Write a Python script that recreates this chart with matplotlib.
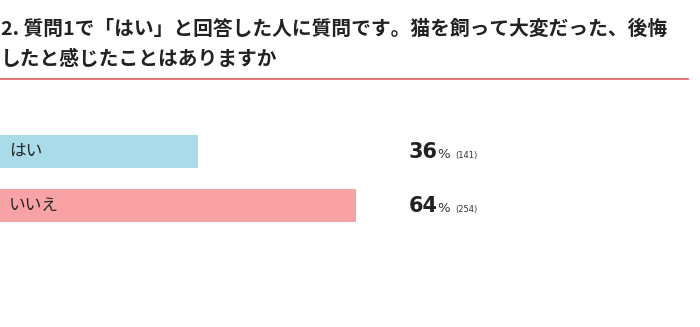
import matplotlib
matplotlib.use("Agg")
import matplotlib.pyplot as plt
from matplotlib.lines import Line2D

plt.rcParams['font.family'] = ['Noto Sans CJK JP', 'DejaVu Sans']

categories = ["はい", "いいえ"]
percents = [36, 64]
counts = [141, 254]
colors = ["#aadbe8", "#f9a2a5"]
title_lines = ["2. 質問1で「はい」と回答した人に質問です。猫を飼って大変だった、後悔",
               "したと感じたことはありますか"]

total = sum(counts)
shares = [c / total * 100 for c in counts]

W, H = 700, 327
fig = plt.figure(figsize=(W / 100, H / 100), dpi=100)
ax = fig.add_axes([0, 0, 1, 1])
ax.set_xlim(0, W / 5.54)
ax.set_ylim((H - 151.5) / 54, -151.5 / 54)
ax.axis('off')

ys = list(range(len(categories)))
ax.barh(ys, shares, height=33 / 54, color=colors, edgecolor='none')

def fx(px):
    return px / W

def fy(py):
    return 1 - py / H

for y, cat, p, c in zip(ys, categories, percents, counts):
    ax.text(1.6, y + 0.0, cat, fontsize=12, va='center', ha='left', color='#222222')
    py = 151.5 + 54 * y
    fig.text(fx(409), fy(py + 1), f"{p}", fontsize=15, fontweight='bold',
             va='center', ha='left', color='#222222', family='DejaVu Sans')
    fig.text(fx(437), fy(py + 3), "%", fontsize=9.5, va='center', ha='left',
             color='#333333', family='DejaVu Sans')
    fig.text(fx(455), fy(py + 4), f"({c})", fontsize=6, va='center', ha='left',
             color='#333333', family='DejaVu Sans')

fig.text(fx(1), fy(29), title_lines[0], fontsize=14.2, fontweight='bold', va='center',
         ha='left', color='#222222')
fig.text(fx(1), fy(59), title_lines[1], fontsize=14.2, fontweight='bold', va='center',
         ha='left', color='#222222')
fig.add_artist(Line2D([0, fx(688)], [fy(79), fy(79)], color='#e36a6a', lw=1.3,
                      transform=fig.transFigure))

fig.savefig("out.png", dpi=100, facecolor='white')
